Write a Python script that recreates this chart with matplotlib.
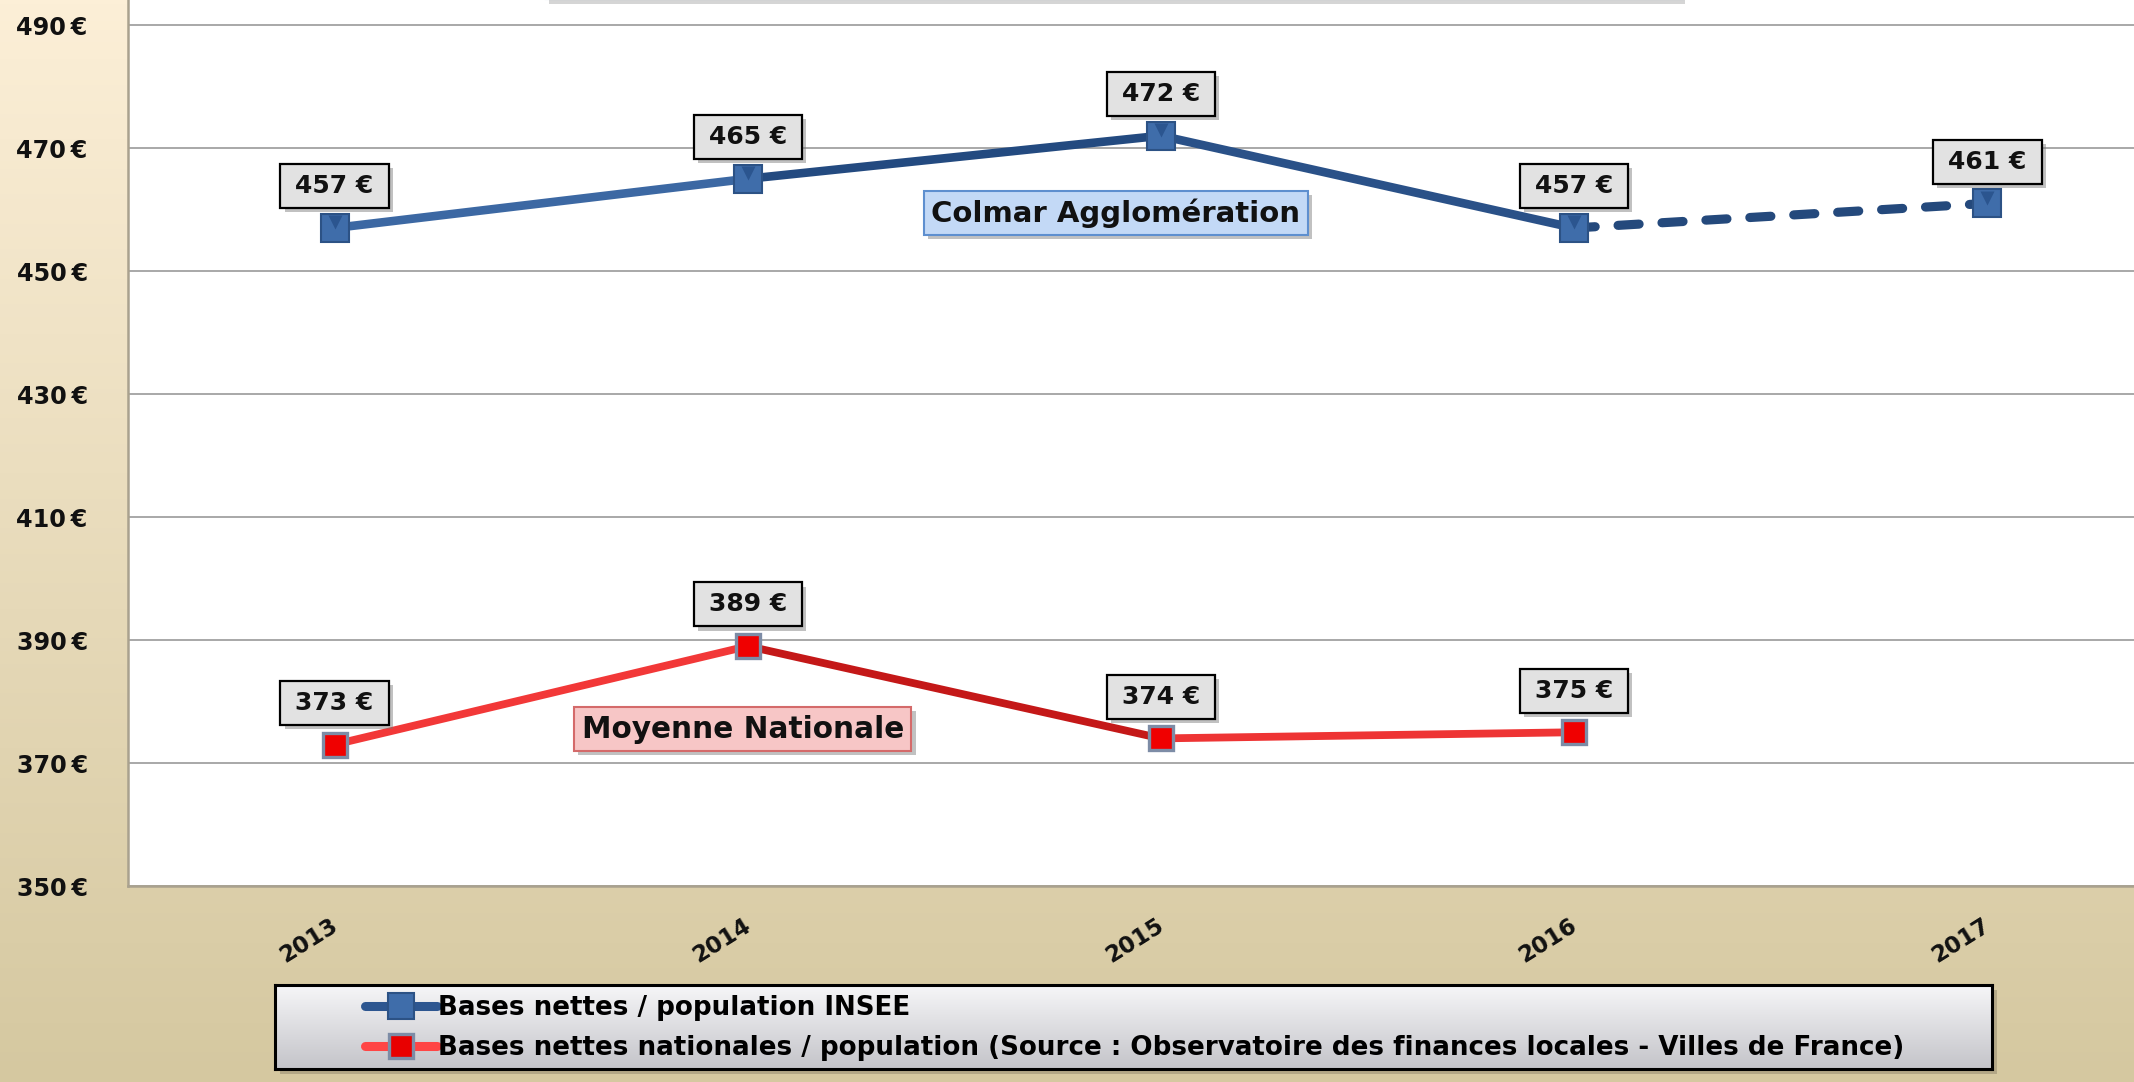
import matplotlib
matplotlib.use('Agg')
import matplotlib.pyplot as plt
import numpy as np
from matplotlib.lines import Line2D
from matplotlib.patches import Rectangle
import matplotlib.patheffects as pe
import matplotlib.transforms as mtransforms

# ---------------- data ----------------
years = ['2013', '2014', '2015', '2016', '2017']
colmar = [457, 465, 472, 457, 461]          # Bases nettes / population INSEE
national = [373, 389, 374, 375]             # Bases nettes nationales / population
yticks = [350, 370, 390, 410, 430, 450, 470, 490]
legend_labels = ['Bases nettes / population INSEE',
                 'Bases nettes nationales / population (Source : Observatoire des finances locales - Villes de France)']
colmar_name = 'Colmar Agglomération'
national_name = 'Moyenne Nationale'

# ---------------- figure ----------------
W, H, DPI = 2134, 1082, 100
fig = plt.figure(figsize=(W / DPI, H / DPI), dpi=DPI)
FONT = 'DejaVu Sans'
plt.rcParams['font.family'] = [FONT]


def fx(px):
    return px / W


def fy(py):
    return 1 - py / H


def vgrad(top, bot, n=256):
    t = np.linspace(0, 1, n)[:, None, None]
    top = np.array(top, float)[None, None, :] / 255
    bot = np.array(bot, float)[None, None, :] / 255
    return top * (1 - t) + bot * t


# background gradient
bg = fig.add_axes([0, 0, 1, 1], zorder=0)
bg.imshow(vgrad((252, 239, 215), (213, 200, 160)), aspect='auto', extent=[0, 1, 0, 1])
bg.axis('off')

ax = fig.add_axes([fx(128), fy(886), 1 - fx(128), fy(0) - fy(886)], zorder=1)
ax.set_facecolor('white')
ax.set_xlim(-0.5, 4.355)
ax.set_ylim(350, 494.07)

x = np.arange(len(years))
xn = np.arange(len(national))

shadow = [pe.withSimplePatchShadow(offset=(3, -3), shadow_rgbFace='#777777', alpha=0.45)]

# blue series: solid segments (actuals) and dashed last segment
blue_seg_colors = ['#3C68A3', '#234A80', '#2A5188']
for i, c in enumerate(blue_seg_colors):
    ax.plot(x[i:i + 2], colmar[i:i + 2], color=c, lw=6.2, solid_capstyle='round', zorder=3)
ax.plot(x[3:5], colmar[3:5], color='#24497C', lw=6.6, ls=(0, (2.3, 2.5)),
        dash_capstyle='round', zorder=3)
ax.plot(x, colmar, ls='none', marker='s', ms=20, mfc='#3F6DAA', mec='#2C5285', mew=1.5, zorder=4)
ax.plot(x, colmar, ls='none', marker='v', ms=10, mfc='#2B558F', mec='none', zorder=4.5,
        transform=ax.transData + mtransforms.ScaledTranslation(0, 0.055, fig.dpi_scale_trans))

# red series
red_seg_colors = ['#F23838', '#C41818', '#EE3434']
for i, c in enumerate(red_seg_colors):
    ax.plot(xn[i:i + 2], national[i:i + 2], color=c, lw=5.6, solid_capstyle='round', zorder=3)
ax.plot(xn, national, ls='none', marker='s', ms=17, mfc='#F00000', mec='#7D8CA6', mew=2.4, zorder=4)

# data labels
for xs, vals in ((x, colmar), (xn, national)):
    for xi, v in zip(xs, vals):
        t = ax.annotate(f'\u2009{v} €\u2009', xy=(xi, v), xytext=(0, 30), textcoords='offset points',
                        ha='center', va='center', fontsize=18, fontweight='bold', color='#111111',
                        bbox=dict(boxstyle='square,pad=0.4', fc='#E2E2E2', ec='black', lw=1.6),
                        zorder=6)
        t.get_bbox_patch().set_path_effects(shadow)

# series name boxes
t1 = ax.text(1.891, 459.4, colmar_name, ha='center', va='center', fontsize=21, fontweight='bold',
             color='#111111', zorder=6,
             bbox=dict(boxstyle='square,pad=0.25', fc='#C3D9F6', ec='#5E8FCF', lw=1.5))
t1.get_bbox_patch().set_path_effects(shadow)
t2 = ax.text(0.988, 375.5, national_name, ha='center', va='center', fontsize=21.3, fontweight='bold',
             color='#111111', zorder=6,
             bbox=dict(boxstyle='square,pad=0.25', fc='#F7C6C6', ec='#D46A6A', lw=1.5))
t2.get_bbox_patch().set_path_effects(shadow)

# axes styling
ax.set_yticks(yticks, labels=[f'{v}\u202f€' for v in yticks], fontweight='bold', fontsize=17.2)
ax.tick_params(axis='y', length=0, pad=29, colors='#111111')
ax.set_xticks(x, labels=years, rotation=32, ha='right', va='top', fontweight='bold', fontsize=16.5)
ax.tick_params(axis='x', length=0, pad=20, colors='#111111')
for lab in ax.get_xticklabels():
    lab.set_transform(lab.get_transform() + mtransforms.ScaledTranslation(0.07, 0, fig.dpi_scale_trans))
ax.yaxis.grid(True, color='#A8A8A8', lw=1.4)
ax.set_axisbelow(True)
for s in ('top', 'right'):
    ax.spines[s].set_visible(False)
ax.spines['left'].set_color('#A9A18E')
ax.spines['left'].set_linewidth(1.8)
ax.spines['bottom'].set_color('#A9A18E')
ax.spines['bottom'].set_linewidth(1.8)

# cut-off title box at top
fig.add_artist(Rectangle((fx(546), fy(-2)), fx(1682 - 546), 0.05, transform=fig.transFigure,
                         fc='white', ec='#7F93B8', lw=2.2, zorder=3, clip_on=False,
                         path_effects=[pe.withSimplePatchShadow(offset=(2, -4), shadow_rgbFace='#888888', alpha=0.35)]))

# legend box with gradient
lx0, lx1, ly0, ly1 = 275, 1992, 985, 1069
fig.add_artist(Rectangle((fx(lx0 + 5), fy(ly1 + 5)), fx(lx1 - lx0), (ly1 - ly0) / H,
                         transform=fig.transFigure, fc='#8a8068', alpha=0.45, ec='none', zorder=1.9))
lg = fig.add_axes([fx(lx0), fy(ly1), fx(lx1 - lx0), (ly1 - ly0) / H], zorder=2)
lg.imshow(vgrad((246, 246, 248), (196, 196, 201)), aspect='auto', extent=[0, 1, 0, 1])
lg.set_xticks([])
lg.set_yticks([])
for s in lg.spines.values():
    s.set_color('black')
    s.set_linewidth(2.2)

handles = [
    Line2D([], [], color='#2D5690', lw=6.5, solid_capstyle='round', marker='s', ms=19,
           mfc='#3F6DAA', mec='#2C5285', mew=1.5),
    Line2D([], [], color='#FF4545', lw=6.5, solid_capstyle='round', marker='s', ms=17,
           mfc='#E80000', mec='#7D8CA6', mew=2.4),
]
leg = fig.legend(handles, legend_labels, loc='center left', bbox_to_anchor=(fx(365), fy(1028)),
                 frameon=False, prop={'family': FONT, 'weight': 'bold', 'size': 18.8},
                 handlelength=2.75, handletextpad=0.05, labelspacing=0.55, borderpad=0,
                 borderaxespad=0)
leg.set_zorder(5)

fig.savefig('out.png', dpi=DPI)
